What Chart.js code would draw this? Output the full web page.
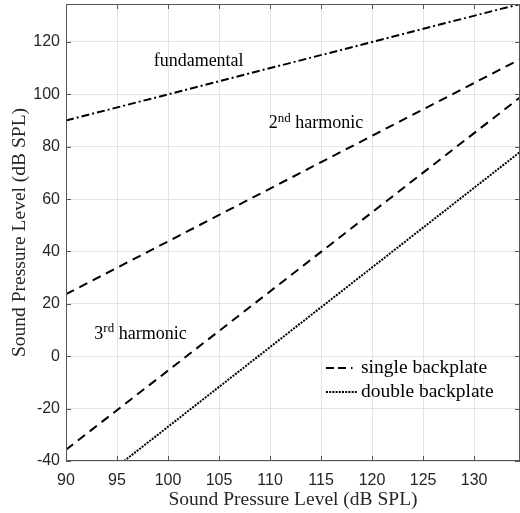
<!DOCTYPE html>
<html>
<head>
<meta charset="utf-8">
<script src="https://cdn.jsdelivr.net/npm/chart.js@4"></script>
<style>
  html, body { margin: 0; padding: 0; background: #fff; }
  #wrap { width: 520px; height: 513px; }
</style>
</head>
<body>
<div id="wrap"><canvas id="chart" width="520" height="513"></canvas></div>
<script>
// values (straight lines, so two points each)
const xFund = [90, 134.5];
const yFund = [90, 134.5];
const x2nd = [90, 134.5];
const y2nd = [23.7, 113.4];
const x3rdSingle = [90, 134.5];
const y3rdSingle = [-35.7, 98.8];
const x3rdDouble = [95.7, 134.5];
const y3rdDouble = [-40, 78];

const xTicks = [90, 95, 100, 105, 110, 115, 120, 125, 130];
const yTicks = [-40, -20, 0, 20, 40, 60, 80, 100, 120];

const serif = "'Liberation Serif', 'Times New Roman', serif";
const sans = "'Liberation Sans', Arial, sans-serif";

function pts(xs, ys) {
  return xs.map((x, i) => ({ x: x, y: ys[i] }));
}

// text labels: [main, superscript, rest, x, y] in data units
const labels = [
  ["fundamental", "", "", 103, 112.5],
  ["2", "nd", " harmonic", 114.5, 89],
  ["3", "rd", " harmonic", 97.3, 8.5],
];

const overlay = {
  id: "overlay",
  afterDatasetsDraw(chart) {
    const ctx = chart.ctx;
    const xs = chart.scales.x, ys = chart.scales.y;
    const a = chart.chartArea;
    ctx.save();
    // box around plot
    ctx.strokeStyle = "#555";
    ctx.lineWidth = 1;
    ctx.strokeRect(a.left + 0.5, a.top + 0.5, a.right - a.left - 1, a.bottom - a.top - 1);

    // small inward tick marks
    ctx.beginPath();
    xs.ticks.forEach(t => {
      const px = Math.round(xs.getPixelForValue(t.value)) + 0.5;
      ctx.moveTo(px, a.bottom); ctx.lineTo(px, a.bottom - 5);
      ctx.moveTo(px, a.top); ctx.lineTo(px, a.top + 5);
    });
    ys.ticks.forEach(t => {
      const py = Math.round(ys.getPixelForValue(t.value)) + 0.5;
      ctx.moveTo(a.left, py); ctx.lineTo(a.left + 5, py);
      ctx.moveTo(a.right, py); ctx.lineTo(a.right - 5, py);
    });
    ctx.stroke();

    ctx.fillStyle = "#000";
    ctx.textBaseline = "middle";
    labels.forEach(([main, sup, rest, x, y]) => {
      ctx.font = "18px " + serif;
      const w1 = ctx.measureText(main).width;
      ctx.font = "13px " + serif;
      const w2 = ctx.measureText(sup).width;
      ctx.font = "18px " + serif;
      const w3 = ctx.measureText(rest).width;
      let px = xs.getPixelForValue(x) - (w1 + w2 + w3) / 2;
      const py = ys.getPixelForValue(y);
      ctx.textAlign = "left";
      ctx.fillText(main, px, py);
      px += w1;
      ctx.font = "13px " + serif;
      ctx.fillText(sup, px, py - 5);
      px += w2;
      ctx.font = "18px " + serif;
      ctx.fillText(rest, px, py);
    });

    // legend
    const legend = [
      ["single backplate", [8, 4, 8, 5, 1.5, 10]],
      ["double backplate", [2, 1.2]],
    ];
    legend.forEach(([txt, dash], i) => {
      const yy = 368 + i * 24;
      ctx.beginPath();
      ctx.setLineDash(dash);
      ctx.lineWidth = 2;
      ctx.strokeStyle = "#000";
      ctx.moveTo(326, yy);
      ctx.lineTo(358, yy);
      ctx.stroke();
      ctx.setLineDash([]);
      ctx.font = "19.5px " + serif;
      ctx.textAlign = "left";
      ctx.fillText(txt, 361, yy);
    });
    ctx.restore();
  }
};

const lineStyle = { borderColor: "#000", borderWidth: 2, pointRadius: 0, fill: false, tension: 0 };

new Chart(document.getElementById("chart"), {
  type: "line",
  data: {
    datasets: [
      Object.assign({ label: "fundamental", data: pts(xFund, yFund), borderDash: [8, 3, 2, 3] }, lineStyle),
      Object.assign({ label: "2nd harmonic", data: pts(x2nd, y2nd), borderDash: [9, 6] }, lineStyle),
      Object.assign({ label: "3rd harmonic single", data: pts(x3rdSingle, y3rdSingle), borderDash: [9, 6] }, lineStyle),
      Object.assign({ label: "3rd harmonic double", data: pts(x3rdDouble, y3rdDouble), borderDash: [2, 1.2], borderWidth: 2.2 }, lineStyle),
    ],
  },
  options: {
    responsive: false,
    animation: false,
    layout: { padding: { top: 4, right: 0, left: 0, bottom: 0 } },
    plugins: { legend: { display: false }, tooltip: { enabled: false } },
    scales: {
      x: {
        type: "linear",
        min: 90,
        max: 134.5,
        afterBuildTicks: (s) => { s.ticks = xTicks.map(v => ({ value: v })); },
        afterFit: (s) => { s.height = 52; s.paddingLeft = 0; s.paddingRight = 0; },
        grid: { color: "#e3e3e3", drawTicks: false },
        border: { display: false },
        ticks: { color: "#262626", font: { family: sans, size: 16 }, padding: 10, maxRotation: 0 },
        title: { display: true, text: "Sound Pressure Level (dB SPL)", color: "#262626", font: { family: serif, size: 19.5 }, padding: { top: 0, bottom: 1 } },
      },
      y: {
        type: "linear",
        min: -40,
        max: 134.5,
        afterBuildTicks: (s) => { s.ticks = yTicks.map(v => ({ value: v })); },
        afterFit: (s) => { s.width = 66; s.paddingTop = 0; s.paddingBottom = 0; },
        grid: { color: "#e3e3e3", drawTicks: false },
        border: { display: false },
        ticks: { color: "#262626", font: { family: sans, size: 16 }, padding: 6 },
        title: { display: true, text: "Sound Pressure Level (dB SPL)", color: "#262626", font: { family: serif, size: 19.5 }, padding: { top: 8, bottom: 0 } },
      },
    },
  },
  plugins: [overlay],
});
</script>
</body>
</html>
